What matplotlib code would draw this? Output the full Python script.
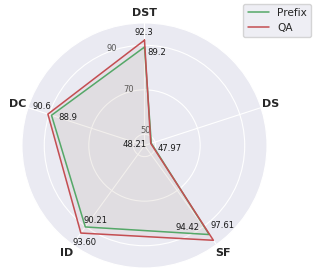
import numpy as np
import matplotlib
matplotlib.use("Agg")
import matplotlib.pyplot as plt
import seaborn as sns

categories = ["DST", "DC", "ID", "SF", "DS"]
prefix = [89.2, 88.9, 90.21, 94.42, 48.21]
qa = [92.3, 90.6, 93.60, 97.61, 47.97]
prefix_text = ["89.2", "88.9", "90.21", "94.42", "48.21"]
qa_text = ["92.3", "90.6", "93.60", "97.61", "47.97"]
rticks = [50, 70, 90]

# label offsets in pixels (dx, dy), up is positive
prefix_off = [(12, -5), (16, -2), (10, 6), (-22, 7), (-17, -1)]
qa_off = [(-1, 8), (-6, 8), (4, -9), (9, 15), (19, -5)]

sns.set_style("darkgrid")
plt.rcParams["font.family"] = ["DejaVu Sans"]

fig = plt.figure(figsize=(3.16, 2.76), dpi=100)
ax = fig.add_axes([0.0696, 0.029, 0.7753, 0.8877], polar=True)
ax.set_theta_offset(np.pi / 2)

angles = np.linspace(0, 2 * np.pi, len(categories), endpoint=False)
closed = np.concatenate([angles, angles[:1]])

green = "#55A868"
red = "#C44E52"

p = np.array(prefix + prefix[:1])
q = np.array(qa + qa[:1])
ax.plot(closed, p, color=green, lw=1.1, label="Prefix")
ax.fill(closed, p, color=green, alpha=0.05)
ax.plot(closed, q, color=red, lw=1.1, label="QA")
ax.fill(closed, q, color=red, alpha=0.06)

for a, v, t, o in zip(angles, prefix, prefix_text, prefix_off):
    ax.annotate(t, (a, v), xytext=o, textcoords="offset pixels",
                ha="center", va="center", fontsize=6.1, color="0.1")
for a, v, t, o in zip(angles, qa, qa_text, qa_off):
    ax.annotate(t, (a, v), xytext=o, textcoords="offset pixels",
                ha="center", va="center", fontsize=6.1, color="0.1")

ax.set_xticks(angles)
ax.set_xticklabels(categories, fontsize=8, fontweight="bold", color="0.15")
ax.tick_params(axis="x", pad=-3)
ax.set_ylim(45, 100)
ax.set_yticks(rticks)
ax.set_yticklabels([str(r) for r in rticks], fontsize=6, color="0.35")
ax.grid(lw=0.8)

ax.legend(loc="upper right", bbox_to_anchor=(0.985, 0.987),
          bbox_transform=fig.transFigure, borderaxespad=0, fontsize=7.6)

fig.savefig("out.png", dpi=100)
